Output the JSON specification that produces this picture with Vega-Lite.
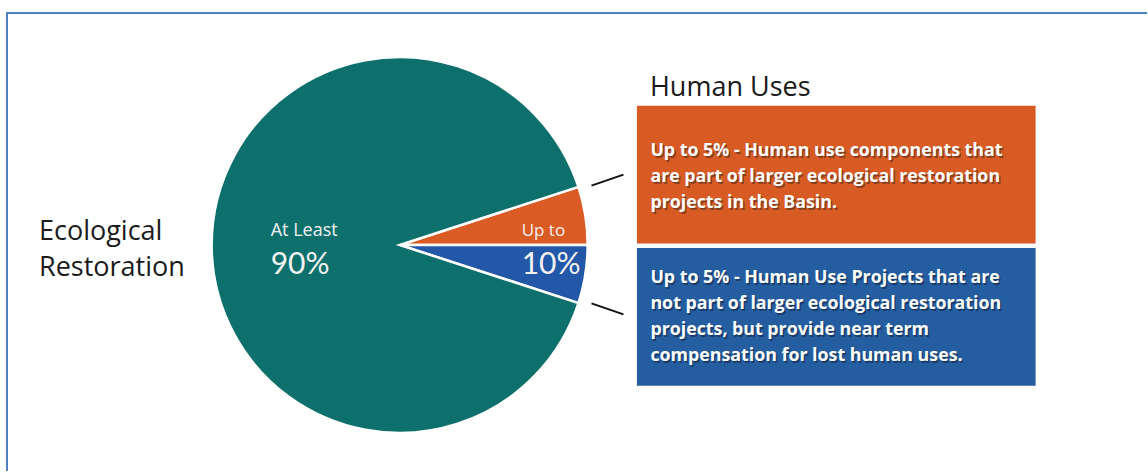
{
  "$schema": "https://vega.github.io/schema/vega-lite/v6.json",
  "width": 1148,
  "height": 472,
  "autosize": {"type": "fit", "contains": "padding"},
  "padding": 0,
  "background": "#ffffff",
  "config": {"view": {"stroke": null}, "text": {"font": "Open Sans"}},
  "datasets": {
    "slices": [
      {"segment": "Human use components", "share": 5, "rank": 1, "small": "Up to", "big": ""},
      {"segment": "Human Use Projects", "share": 5, "rank": 2, "small": "", "big": "10%"},
      {"segment": "Ecological Restoration", "share": 90, "rank": 3, "small": "At Least", "big": "90%"}
    ],
    "boxes": [
      {"segment": "Human use components", "lines": ["Up to 5% - Human use components that", "are part of larger ecological restoration", "projects in the Basin."]},
      {"segment": "Human Use Projects", "lines": ["Up to 5% - Human Use Projects that are", "not part of larger ecological restoration", "projects, but provide near term", "compensation for lost human uses."]}
    ],
    "titles": [
      {"name": "Ecological Restoration", "lines": ["Ecological", "Restoration"]},
      {"name": "Human Uses", "lines": ["Human Uses"]}
    ]
  },
  "layer": [
    {
      "data": {"values": [{"edge": "top"}]},
      "mark": {"type": "rule", "color": "#4f81bd", "strokeWidth": 2},
      "encoding": {
        "x": {"datum": 7, "type": "quantitative", "scale": {"domain": [0, 1148], "nice": false, "zero": false}, "axis": null},
        "x2": {"datum": 1148},
        "y": {"datum": 13, "type": "quantitative", "scale": {"domain": [0, 472], "nice": false, "zero": false, "reverse": true}, "axis": null},
        "y2": {"datum": 13}
      }
    },
    {
      "data": {"values": [{"edge": "left"}]},
      "mark": {"type": "rule", "color": "#4f81bd", "strokeWidth": 2},
      "encoding": {
        "x": {"datum": 7, "type": "quantitative"},
        "x2": {"datum": 7},
        "y": {"datum": 12, "type": "quantitative"},
        "y2": {"datum": 472}
      }
    },
    {
      "data": {"name": "slices"},
      "encoding": {
        "x": {"datum": 400, "type": "quantitative"},
        "y": {"datum": 245.5, "type": "quantitative"},
        "theta": {"field": "share", "type": "quantitative", "stack": true, "scale": {"range": [1.2566, 7.5398]}},
        "order": {"field": "rank", "type": "quantitative"}
      },
      "layer": [
        {
          "mark": {"type": "arc", "outerRadius": 188, "stroke": "#ffffff", "strokeWidth": 2.5},
          "encoding": {
            "color": {"field": "segment", "type": "nominal", "legend": null,
              "scale": {"domain": ["Human use components", "Human Use Projects", "Ecological Restoration"], "range": ["#da5c24", "#2357a8", "#0d706d"]}}
          }
        },
        {
          "mark": {"type": "text", "radius": 129, "align": "left", "baseline": "alphabetic", "dy": -9, "fontSize": 18, "color": "#f2f2f2"},
          "encoding": {"text": {"condition": {"test": "datum.segment === 'Ecological Restoration'", "field": "small"}, "value": ""}}
        },
        {
          "mark": {"type": "text", "radius": 129, "align": "left", "baseline": "alphabetic", "dy": 29.5, "fontSize": 30, "font": "Lato", "color": "#f2f2f2"},
          "encoding": {"text": {"condition": {"test": "datum.segment === 'Ecological Restoration'", "field": "big"}, "value": ""}}
        },
        {
          "mark": {"type": "text", "radius": 123.5, "align": "left", "baseline": "alphabetic", "dy": 10, "fontSize": 17, "color": "#f2f2f2"},
          "encoding": {"text": {"condition": {"test": "datum.segment !== 'Ecological Restoration'", "field": "small"}, "value": ""}}
        },
        {
          "mark": {"type": "text", "radius": 123.5, "align": "left", "baseline": "alphabetic", "dy": 10, "fontSize": 30, "font": "Lato", "color": "#f2f2f2"},
          "encoding": {"text": {"condition": {"test": "datum.segment !== 'Ecological Restoration'", "field": "big"}, "value": ""}}
        }
      ]
    },
    {
      "data": {"name": "slices"},
      "transform": [{"filter": "datum.rank === 1"}],
      "mark": {"type": "rule", "color": "#111111", "strokeWidth": 2},
      "encoding": {
        "x": {"datum": 592, "type": "quantitative"},
        "x2": {"datum": 624},
        "y": {"datum": 186, "type": "quantitative"},
        "y2": {"datum": 175}
      }
    },
    {
      "data": {"name": "slices"},
      "transform": [{"filter": "datum.rank === 2"}],
      "mark": {"type": "rule", "color": "#111111", "strokeWidth": 2},
      "encoding": {
        "x": {"datum": 592, "type": "quantitative"},
        "x2": {"datum": 624},
        "y": {"datum": 304, "type": "quantitative"},
        "y2": {"datum": 315}
      }
    },
    {
      "data": {"name": "boxes"},
      "transform": [{"filter": "datum.segment === 'Human use components'"}],
      "layer": [
        {
          "mark": {"type": "rect", "color": "#d95b24"},
          "encoding": {
            "x": {"datum": 637.5, "type": "quantitative"}, "x2": {"datum": 1036.5},
            "y": {"datum": 106, "type": "quantitative"}, "y2": {"datum": 244}
          }
        },
        {
          "mark": {"type": "text", "align": "left", "baseline": "alphabetic", "fontSize": 17.8, "fontWeight": "bold", "lineHeight": 26, "color": "#3a2418", "opacity": 0.5, "dx": 1.5, "dy": 1.5},
          "encoding": {"x": {"datum": 651, "type": "quantitative"}, "y": {"datum": 156.7, "type": "quantitative"}, "text": {"field": "lines"}}
        },
        {
          "mark": {"type": "text", "align": "left", "baseline": "alphabetic", "fontSize": 17.8, "fontWeight": "bold", "lineHeight": 26, "color": "#ffffff"},
          "encoding": {"x": {"datum": 651, "type": "quantitative"}, "y": {"datum": 156.7, "type": "quantitative"}, "text": {"field": "lines"}}
        }
      ]
    },
    {
      "data": {"name": "boxes"},
      "transform": [{"filter": "datum.segment === 'Human Use Projects'"}],
      "layer": [
        {
          "mark": {"type": "rect", "color": "#255ea0"},
          "encoding": {
            "x": {"datum": 637.5, "type": "quantitative"}, "x2": {"datum": 1036.5},
            "y": {"datum": 248.5, "type": "quantitative"}, "y2": {"datum": 386.5}
          }
        },
        {
          "mark": {"type": "text", "align": "left", "baseline": "alphabetic", "fontSize": 17.8, "fontWeight": "bold", "lineHeight": 26, "color": "#101a30", "opacity": 0.5, "dx": 1.5, "dy": 1.5},
          "encoding": {"x": {"datum": 651, "type": "quantitative"}, "y": {"datum": 284, "type": "quantitative"}, "text": {"field": "lines"}}
        },
        {
          "mark": {"type": "text", "align": "left", "baseline": "alphabetic", "fontSize": 17.8, "fontWeight": "bold", "lineHeight": 26, "color": "#ffffff"},
          "encoding": {"x": {"datum": 651, "type": "quantitative"}, "y": {"datum": 284, "type": "quantitative"}, "text": {"field": "lines"}}
        }
      ]
    },
    {
      "data": {"name": "titles"},
      "transform": [{"filter": "datum.name === 'Ecological Restoration'"}],
      "mark": {"type": "text", "align": "left", "baseline": "alphabetic", "fontSize": 27, "lineHeight": 36, "color": "#1a1a1a"},
      "encoding": {"x": {"datum": 39, "type": "quantitative"}, "y": {"datum": 241, "type": "quantitative"}, "text": {"field": "lines"}}
    },
    {
      "data": {"name": "titles"},
      "transform": [{"filter": "datum.name === 'Human Uses'"}],
      "mark": {"type": "text", "align": "left", "baseline": "alphabetic", "fontSize": 27, "color": "#1a1a1a"},
      "encoding": {"x": {"datum": 650.5, "type": "quantitative"}, "y": {"datum": 96.7, "type": "quantitative"}, "text": {"field": "lines"}}
    }
  ]
}
